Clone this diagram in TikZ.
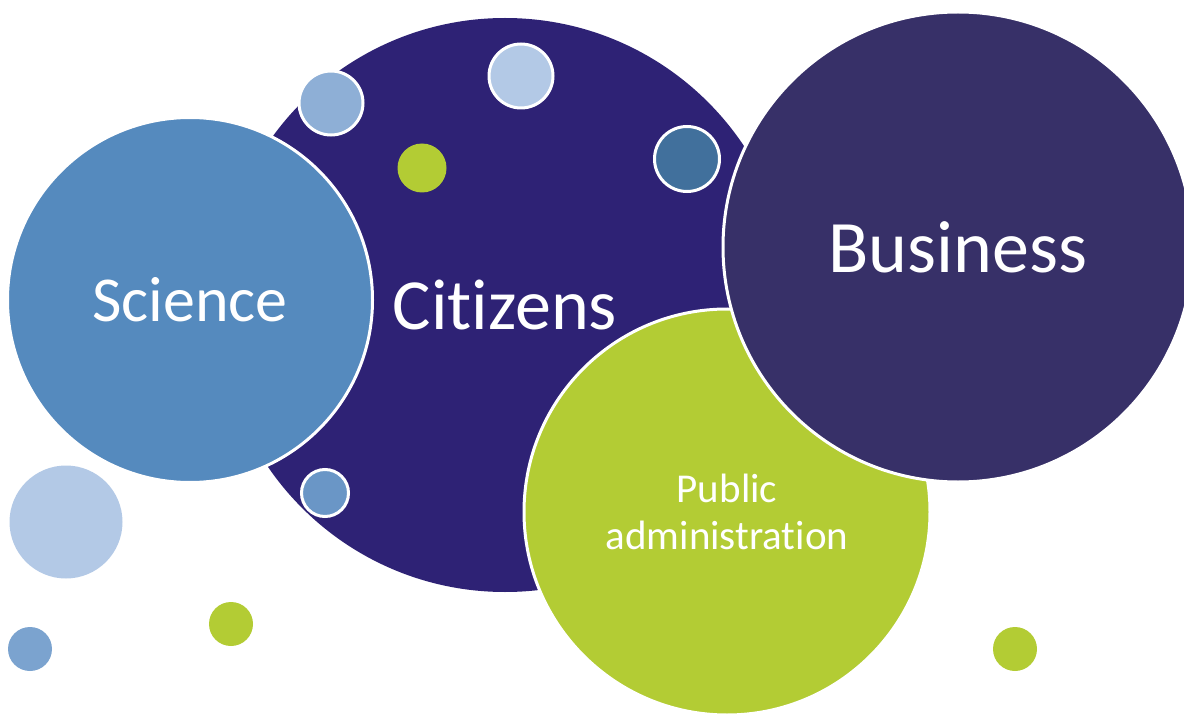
\documentclass[tikz,border=0pt]{standalone}
\usepackage{fontspec}
\setmainfont{Carlito}[Ligatures=NoCommon]
\begin{document}
\begin{tikzpicture}[x=1pt,y=-1pt,
        bubble/.style={circle,inner sep=0pt,text=white,align=center},
        rim/.style={draw=white,line width=3pt},
        norim/.style={}]
        %colores
        \definecolor{cnavy}{HTML}{2E2275}
        \definecolor{bnavy}{HTML}{373068}
        \definecolor{sblue}{HTML}{558ABE}
        \definecolor{lgreen}{HTML}{B3CC34}
        \definecolor{pblue}{HTML}{8EAFD6}
        \definecolor{lblue}{HTML}{B3C9E6}
        \definecolor{steel}{HTML}{41709C}
        \definecolor{mblue}{HTML}{6A96C6}
        \definecolor{dblue}{HTML}{7BA3CF}

        \useasboundingbox (0,0) rectangle (1184,714);
        \clip (0,0) rectangle (1184,714);

        % Circulo grande Citizens
        \node[bubble,fill=cnavy,minimum size=574pt,font=\fontsize{72}{72}\selectfont] (citizens) at (505,305) {Citizens};

        % Public administration, Business encima
        \node[bubble,rim,fill=lgreen,minimum size=406pt,font=\fontsize{41}{47}\selectfont] (public) at (727,512) {Public\\administration};
        \node[bubble,rim,fill=bnavy,minimum size=470pt,font=\fontsize{74}{74}\selectfont] (business) at (958,247) {Business};

        % Science
        \node[bubble,rim,fill=sblue,minimum size=365pt,font=\fontsize{64}{64}\selectfont] (science) at (190,300) {Science};

        % Circulos pequenos
        \foreach \i/\x/\y/\d/\c/\s in {1/331/103/64/pblue/rim, 2/521/76/64/lblue/rim,
                3/422/168/49/lgreen/norim, 4/687/159/65/steel/rim, 5/325/493/47/mblue/rim,
                6/66/522/113/lblue/norim, 7/231/624/44/lgreen/norim, 8/30/649/44/dblue/norim,
                9/1015/649/44/lgreen/norim}
            \node[bubble,fill=\c,minimum size=\d pt,\s] (dot\i) at (\x,\y) {};
    \end{tikzpicture}
\end{document}
